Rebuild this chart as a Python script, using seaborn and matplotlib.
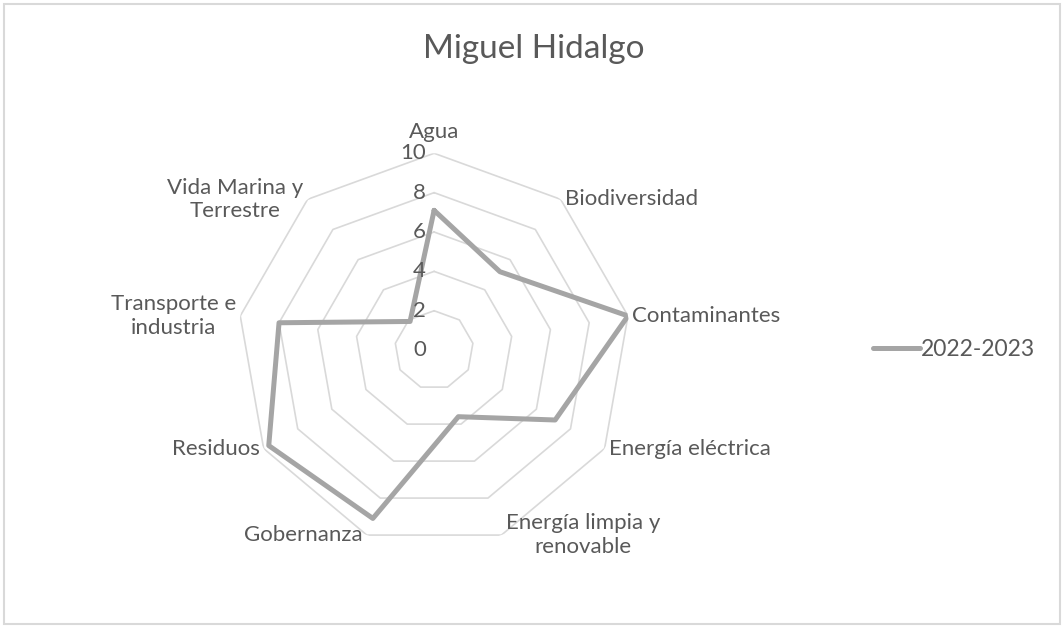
"""
Radar chart: Miguel Hidalgo, 2022-2023
"""

import numpy as np
import pandas as pd
import matplotlib
matplotlib.use('Agg')
import matplotlib.pyplot as plt
from matplotlib.patches import Rectangle
import seaborn as sns

# Data
categories = ['Agua', 'Biodiversidad', 'Contaminantes', 'Energía eléctrica',
              'Energía limpia y\nrenovable', 'Gobernanza', 'Residuos',
              'Transporte e\nindustria', 'Vida Marina y\nTerrestre']
values_2022 = [7.1, 5.2, 10.0, 7.1, 3.6, 9.1, 9.7, 8.0, 1.9]
series_name = '2022-2023'
r_ticks = [0, 2, 4, 6, 8, 10]
title = 'Miguel Hidalgo'

text_color = '#595959'
grid_color = '#d9d9d9'
line_color = '#a5a5a5'

sns.set_theme(style='white')
plt.rcParams['font.family'] = ['Lato', 'DejaVu Sans']

n = len(categories)
angles = np.linspace(0, 2 * np.pi, n, endpoint=False)
angles_closed = np.append(angles, 2 * np.pi)

df = pd.DataFrame({'theta': angles_closed,
                   'value': values_2022 + values_2022[:1]})

fig = plt.figure(figsize=(10.64, 6.28), dpi=100)
ax = fig.add_axes([0.223, 0.129, 0.370, 0.627], projection='polar')
ax.set_theta_zero_location('N')
ax.set_theta_direction(-1)
ax.set_ylim(0, r_ticks[-1])
ax.grid(False)
ax.spines['polar'].set_visible(False)
ax.set_xticks([])
ax.set_yticks([])
ax.set_facecolor('none')

# Polygon gridlines
for level in r_ticks[1:]:
    ax.plot(angles_closed, [level] * (n + 1), color=grid_color, lw=1.2, zorder=0)

# Radial tick labels
for level in r_ticks:
    ax.annotate(str(level), xy=(0, level), xytext=(-6, 0), textcoords='offset points',
                ha='right', va='center', fontsize=16, color=text_color, zorder=4)

# Data series
sns.lineplot(data=df, x='theta', y='value', sort=False, ax=ax, color=line_color,
             lw=3.6, label=series_name, legend=False, zorder=3)

# Category labels
for ang, cat in zip(angles, categories):
    s = np.sin(ang)
    if abs(s) < 0.1:
        ha, va, off = 'center', 'bottom', (0, 8)
    elif s > 0:
        ha, va, off = 'left', 'center', (3, 0)
    else:
        ha, va, off = 'right', 'center', (-3, 0)
    ax.annotate(cat, xy=(ang, r_ticks[-1]), xytext=off, textcoords='offset points',
                ha=ha, va=va, ma='center', fontsize=16, color=text_color,
                annotation_clip=False)

fig.text(0.502, 0.922, title, ha='center', va='center', fontsize=24, color=text_color)

handles = ax.get_lines()[-1:]
fig.legend(handles, [series_name], loc='center left', bbox_to_anchor=(0.801, 0.443),
           frameon=False, fontsize=16.5, handlelength=2.05, handletextpad=0.05,
           labelcolor=text_color)

fig.patches.append(Rectangle((0.004, 0.006), 0.992, 0.988, transform=fig.transFigure,
                             fill=False, ec=grid_color, lw=1.5))

plt.savefig('out.png', dpi=100)
